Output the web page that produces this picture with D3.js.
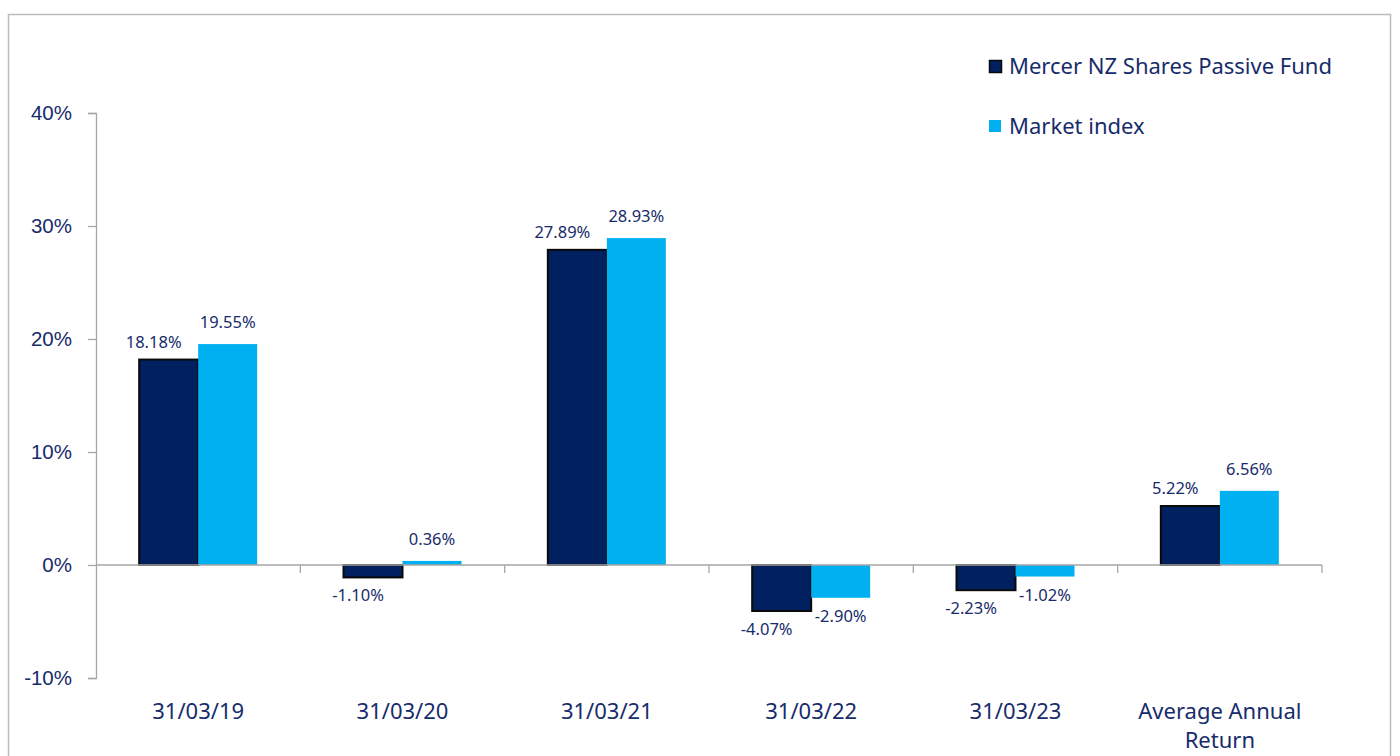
<!DOCTYPE html>
<html>
<head>
<meta charset="utf-8">
<script src="https://cdn.jsdelivr.net/npm/d3@7"></script>
<style>
  body { margin: 0; background: #fff; }
  svg { display: block; font-family: "Noto Sans", "Open Sans", sans-serif; }
</style>
</head>
<body>
<div id="container"></div>
<script>
// chart data
var categories = ["31/03/19", "31/03/20", "31/03/21", "31/03/22", "31/03/23", "Average Annual Return"]
var seriesNames = ["Mercer NZ Shares Passive Fund", "Market index"]
var fundValues = [18.18, -1.10, 27.89, -4.07, -2.23, 5.22]
var indexValues = [19.55, 0.36, 28.93, -2.90, -1.02, 6.56]
var yTicks = [-10, 0, 10, 20, 30, 40]

var W = 1400, H = 756
var textColor = "#172c6b"
var colors = ["#002060", "#00b0f0"]

var svg = d3.select("#container").append("svg")
    .attr("width", W).attr("height", H)

// outer frame
svg.append("rect")
    .attr("x", 8.5).attr("y", 14.5)
    .attr("width", 1382).attr("height", 760)
    .attr("fill", "none").attr("stroke", "#bdbdbd").attr("stroke-width", 1.5)

var left = 96, right = 1322

var y = d3.scaleLinear().domain([-10, 40]).range([678, 113])
var x = d3.scaleBand().domain(categories).range([left, right])
var inner = d3.scaleBand().domain([0, 1]).range([0, 118])
var groupOffset = (x.bandwidth() - 118) / 2

// y axis
var yAxis = svg.append("g")
    .attr("transform", "translate(" + left + ",0)")
    .call(d3.axisLeft(y).tickValues(yTicks).tickSize(8).tickPadding(16)
      .tickFormat(function(d){ return d + "%" }))
yAxis.select(".domain").attr("stroke", "#a6a6a6").attr("stroke-width", 1.3)
yAxis.selectAll(".tick line").attr("stroke", "#a6a6a6").attr("stroke-width", 1.3)
yAxis.selectAll("text").attr("fill", textColor).style("font-size", "20.5px")

var data = categories.map(function(c, i){
  return { cat: c, vals: [fundValues[i], indexValues[i]] }
})

var groups = svg.selectAll(".grp").data(data).enter().append("g")
    .attr("class", "grp")
    .attr("transform", function(d){ return "translate(" + (x(d.cat) + groupOffset) + ",0)" })

// bars
groups.selectAll("rect").data(function(d){ return d.vals }).enter().append("rect")
    .attr("x", function(d, i){ return inner(i) })
    .attr("y", function(d){ return y(Math.max(0, d)) })
    .attr("width", inner.bandwidth())
    .attr("height", function(d){ return Math.abs(y(d) - y(0)) })
    .attr("fill", function(d, i){ return colors[i] })
    .attr("stroke", function(d, i){ return i === 0 ? "#0a0a0a" : "none" })
    .attr("stroke-width", 2)

// x axis (drawn on top of bars)
var xAxisG = svg.append("g").attr("transform", "translate(0," + y(0) + ")")
xAxisG.append("line")
    .attr("x1", left).attr("x2", right)
    .attr("stroke", "#a6a6a6").attr("stroke-width", 1.3)
xAxisG.selectAll(".xt").data(categories).enter().append("line")
    .attr("x1", function(d){ return x(d) + x.bandwidth() })
    .attr("x2", function(d){ return x(d) + x.bandwidth() })
    .attr("y1", 0).attr("y2", 8)
    .attr("stroke", "#a6a6a6").attr("stroke-width", 1.3)

// category labels
svg.selectAll(".xl").data(categories).enter().append("text")
    .attr("class", "xl")
    .attr("text-anchor", "middle")
    .attr("fill", textColor)
    .style("font-size", "22px")
    .attr("x", function(d){ return x(d) + x.bandwidth() / 2 })
    .attr("y", 719)
    .each(function(d){
      var t = d3.select(this)
      if (d === "Average Annual Return") {
        t.append("tspan").attr("x", t.attr("x")).text("Average Annual")
        t.append("tspan").attr("x", t.attr("x")).attr("dy", 29).text("Return")
      } else {
        t.text(d)
      }
    })

// value labels
groups.selectAll(".vl").data(function(d){ return d.vals }).enter().append("text")
    .attr("class", "vl")
    .attr("text-anchor", "middle")
    .attr("fill", textColor)
    .style("font-size", "16.5px")
    .attr("x", function(d, i){ return inner(i) + inner.bandwidth() / 2 - (i === 0 ? 15 : 0) })
    .attr("y", function(d, i){
      if (d >= 0) return y(d) - (i === 0 ? 12 : 16)
      return y(d) + 24
    })
    .text(function(d){ return d.toFixed(2) + "%" })

// legend
var legend = svg.selectAll(".lg").data(seriesNames).enter().append("g")
    .attr("class", "lg")
    .attr("transform", function(d, i){ return "translate(989," + (60 + i * 60) + ")" })
legend.append("rect")
    .attr("width", 12).attr("height", 12)
    .attr("x", function(d, i){ return i === 0 ? 0.5 : 0 })
    .attr("y", function(d, i){ return i === 0 ? 0.5 : 0 })
    .attr("fill", function(d, i){ return colors[i] })
    .attr("stroke", function(d, i){ return i === 0 ? "#0a0a0a" : "none" })
    .attr("stroke-width", 1.5)
legend.append("text")
    .attr("x", 20).attr("y", 6).attr("dy", "0.36em")
    .attr("fill", textColor)
    .style("font-size", "22px")
    .text(function(d){ return d })
</script>
</body>
</html>
